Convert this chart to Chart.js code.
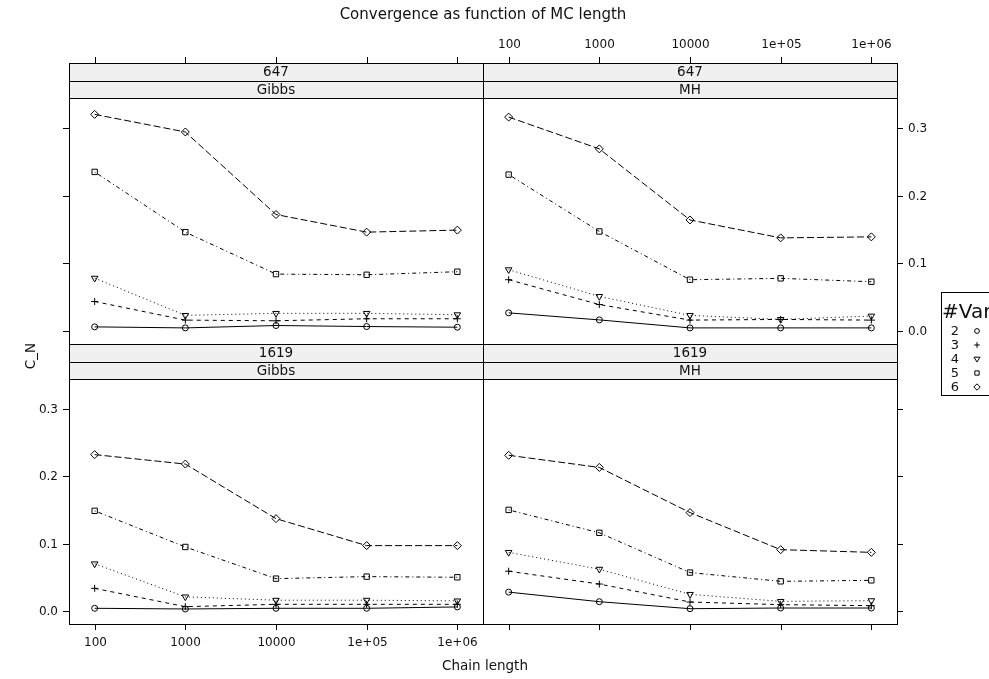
<!DOCTYPE html>
<html>
<head>
<meta charset="utf-8">
<script src="https://cdn.jsdelivr.net/npm/chart.js@4.4.1/dist/chart.umd.min.js"></script>
<style>
  body { margin: 0; background: #fff; }
  #wrap { position: relative; width: 989px; height: 679px; overflow: hidden; }
  #wrap canvas { position: absolute; left: 0; top: 0; }
</style>
</head>
<body>
<div id="wrap">
  <canvas id="tl" width="989" height="679"></canvas>
  <canvas id="tr" width="989" height="679"></canvas>
  <canvas id="bl" width="989" height="679"></canvas>
  <canvas id="br" width="989" height="679"></canvas>
</div>
<script>
// --- dados ---
const chainLengths = [100, 1000, 10000, 1e5, 1e6];
const xTickLabels = ['100', '1000', '10000', '1e+05', '1e+06'];
const yTicks = [0, 0.1, 0.2, 0.3];
const yTickLabels = ['0.0', '0.1', '0.2', '0.3'];
const varNames = ['2', '3', '4', '5', '6'];

// 647 / Gibbs
const g647_v2 = [0.006, 0.0045, 0.008, 0.0065, 0.0055];
const g647_v3 = [0.0435, 0.016, 0.015, 0.018, 0.018];
const g647_v4 = [0.078, 0.023, 0.026, 0.026, 0.024];
const g647_v5 = [0.235, 0.146, 0.084, 0.083, 0.0875];
const g647_v6 = [0.320, 0.294, 0.172, 0.146, 0.149];

// 647 / MH
const m647_v2 = [0.0267, 0.0163, 0.0045, 0.0045, 0.0045];
const m647_v3 = [0.0757, 0.039, 0.016, 0.017, 0.016];
const m647_v4 = [0.0905, 0.051, 0.023, 0.017, 0.022];
const m647_v5 = [0.231, 0.147, 0.0757, 0.0777, 0.0727];
const m647_v6 = [0.316, 0.269, 0.164, 0.1375, 0.139];

// 1619 / Gibbs
const g1619_v2 = [0.004, 0.003, 0.004, 0.004, 0.006];
const g1619_v3 = [0.0336, 0.0064, 0.0099, 0.0099, 0.0099];
const g1619_v4 = [0.070, 0.021, 0.016, 0.016, 0.015];
const g1619_v5 = [0.1486, 0.095, 0.048, 0.051, 0.050];
const g1619_v6 = [0.232, 0.218, 0.137, 0.097, 0.097];

// 1619 / MH
const m1619_v2 = [0.028, 0.0138, 0.0034, 0.0044, 0.0044];
const m1619_v3 = [0.059, 0.040, 0.0133, 0.0094, 0.0079];
const m1619_v4 = [0.087, 0.062, 0.0247, 0.0143, 0.0153];
const m1619_v5 = [0.150, 0.116, 0.057, 0.044, 0.0455];
const m1619_v6 = [0.231, 0.213, 0.146, 0.091, 0.087];

// --- estilos ---
const INK = '#000';
const TEXT = '#111';
const STRIP_FILL = '#f0f0f0';
const FONT = '"DejaVu Sans", sans-serif';
const STRIP_H = 17.5;
const X_MIN = Math.pow(10, 1.717);
const X_MAX = Math.pow(10, 6.283);
const Y_MIN = -0.0193;
const Y_MAX = 0.3442;
const dashes = [[], [4, 4], [1, 3], [1, 3, 4, 3], [7, 3]];
const pointStyles = ['circle', 'cross', 'triangle', 'rect', 'rectRot'];
const pointRotations = [0, 0, 180, 0, 0];
const pointRadii = [3, 3.5, 3.8, 3.8, 4];

// moldura, faixas e marcas de eixo de cada painel
const latticePlugin = {
  id: 'lattice',
  afterDatasetsDraw(chart, args, opts) {
    const { ctx, chartArea: a, scales: { x, y } } = chart;
    ctx.save();
    ctx.strokeStyle = INK;
    ctx.lineWidth = 1;
    ctx.setLineDash([]);

    const n = opts.strips.length;
    opts.strips.forEach((label, i) => {
      const top = Math.round(a.top - STRIP_H * (n - i));
      const bot = Math.round(a.top - STRIP_H * (n - i - 1));
      ctx.fillStyle = STRIP_FILL;
      ctx.fillRect(a.left, top, a.right - a.left, bot - top);
      ctx.strokeRect(a.left + 0.5, top + 0.5, a.right - a.left, bot - top);
      ctx.fillStyle = TEXT;
      ctx.font = '13.5px ' + FONT;
      ctx.textAlign = 'center';
      ctx.textBaseline = 'middle';
      ctx.fillText(label, (a.left + a.right) / 2, (top + bot) / 2 + 0.5);
    });

    ctx.strokeRect(a.left + 0.5, a.top + 0.5, a.right - a.left, a.bottom - a.top);

    const TL = 6;
    ctx.font = '12px ' + FONT;
    ctx.fillStyle = TEXT;
    const stripTop = Math.round(a.top - STRIP_H * n);

    if (opts.top) {
      chainLengths.forEach((v, i) => {
        const px = Math.round(x.getPixelForValue(v)) + 0.5;
        ctx.beginPath(); ctx.moveTo(px, stripTop); ctx.lineTo(px, stripTop - TL); ctx.stroke();
        if (opts.top === 'labels') {
          ctx.textAlign = 'center'; ctx.textBaseline = 'middle';
          ctx.fillText(xTickLabels[i], px, stripTop - 18);
        }
      });
    }
    if (opts.bottom) {
      chainLengths.forEach((v, i) => {
        const px = Math.round(x.getPixelForValue(v)) + 0.5;
        ctx.beginPath(); ctx.moveTo(px, a.bottom); ctx.lineTo(px, a.bottom + TL); ctx.stroke();
        if (opts.bottom === 'labels') {
          ctx.textAlign = 'center'; ctx.textBaseline = 'middle';
          ctx.fillText(xTickLabels[i], px, a.bottom + 19);
        }
      });
    }
    if (opts.left) {
      yTicks.forEach((v, i) => {
        const py = Math.round(y.getPixelForValue(v)) + 0.5;
        ctx.beginPath(); ctx.moveTo(a.left, py); ctx.lineTo(a.left - TL, py); ctx.stroke();
        if (opts.left === 'labels') {
          ctx.textAlign = 'right'; ctx.textBaseline = 'middle';
          ctx.fillText(yTickLabels[i], a.left - 11, py);
        }
      });
    }
    if (opts.right) {
      yTicks.forEach((v, i) => {
        const py = Math.round(y.getPixelForValue(v)) + 0.5;
        ctx.beginPath(); ctx.moveTo(a.right, py); ctx.lineTo(a.right + TL, py); ctx.stroke();
        if (opts.right === 'labels') {
          ctx.textAlign = 'left'; ctx.textBaseline = 'middle';
          ctx.fillText(yTickLabels[i], a.right + 11, py);
        }
      });
    }

    if (opts.extras) drawExtras(ctx);
    ctx.restore();
  }
};

// título, rótulos dos eixos e legenda
const drawExtras = (ctx) => {
  ctx.fillStyle = TEXT;
  ctx.textAlign = 'center';
  ctx.textBaseline = 'middle';
  ctx.font = '15px ' + FONT;
  ctx.fillText('Convergence as function of MC length', 483, 15);
  ctx.font = '13.5px ' + FONT;
  ctx.fillText('Chain length', 485, 666);
  ctx.save();
  ctx.translate(31, 356);
  ctx.rotate(-Math.PI / 2);
  ctx.fillText('C_N', 0, 0);
  ctx.restore();

  // legenda
  ctx.strokeStyle = INK;
  ctx.lineWidth = 1;
  ctx.strokeRect(941.5, 292.5, 60, 103);
  ctx.font = '20px ' + FONT;
  ctx.textAlign = 'left';
  ctx.textBaseline = 'alphabetic';
  ctx.fillText('#Var', 942, 318);
  ctx.font = '13px ' + FONT;
  varNames.forEach((name, i) => {
    const cy = 331 + i * 14;
    ctx.textAlign = 'center';
    ctx.textBaseline = 'middle';
    ctx.fillText(name, 955, cy + 0.5);
    drawSymbol(ctx, i, 977, cy);
  });
};

const drawSymbol = (ctx, i, cx, cy) => {
  const r = pointRadii[i] * 0.8;
  ctx.beginPath();
  if (i === 0) {
    ctx.arc(cx, cy, r, 0, Math.PI * 2);
  } else if (i === 1) {
    ctx.moveTo(cx - r, cy); ctx.lineTo(cx + r, cy);
    ctx.moveTo(cx, cy - r); ctx.lineTo(cx, cy + r);
  } else if (i === 2) {
    ctx.moveTo(cx - r, cy - r * 0.6); ctx.lineTo(cx + r, cy - r * 0.6); ctx.lineTo(cx, cy + r); ctx.closePath();
  } else if (i === 3) {
    const s = r * Math.SQRT1_2;
    ctx.rect(cx - s, cy - s, 2 * s, 2 * s);
  } else {
    ctx.moveTo(cx, cy - r); ctx.lineTo(cx + r, cy); ctx.lineTo(cx, cy + r); ctx.lineTo(cx - r, cy); ctx.closePath();
  }
  ctx.stroke();
};

const makePanel = (id, rect, series, lattice) => {
  new Chart(document.getElementById(id), {
    type: 'line',
    data: {
      datasets: series.map((vals, i) => ({
        label: varNames[i],
        data: chainLengths.map((c, j) => ({ x: c, y: vals[j] })),
        borderColor: INK,
        borderWidth: 1,
        borderDash: dashes[i],
        pointStyle: pointStyles[i],
        pointRotation: pointRotations[i],
        pointRadius: pointRadii[i],
        pointBorderColor: INK,
        pointBackgroundColor: 'rgba(0,0,0,0)',
        pointBorderWidth: 1,
        tension: 0,
        fill: false
      }))
    },
    options: {
      responsive: false,
      animation: false,
      devicePixelRatio: 1,
      events: [],
      layout: {
        padding: { left: rect[0], top: rect[1], right: 989 - rect[2], bottom: 679 - rect[3] }
      },
      scales: {
        x: { type: 'logarithmic', min: X_MIN, max: X_MAX, bounds: 'data', display: false },
        y: { type: 'linear', min: Y_MIN, max: Y_MAX, bounds: 'data', display: false }
      },
      plugins: {
        legend: { display: false },
        tooltip: { enabled: false },
        lattice: lattice
      }
    },
    plugins: [latticePlugin]
  });
};

makePanel('tl', [69, 98, 483, 344],
  [g647_v2, g647_v3, g647_v4, g647_v5, g647_v6],
  { strips: ['647', 'Gibbs'], top: 'ticks', left: 'ticks' });
makePanel('tr', [483, 98, 897, 344],
  [m647_v2, m647_v3, m647_v4, m647_v5, m647_v6],
  { strips: ['647', 'MH'], top: 'labels', right: 'labels' });
makePanel('bl', [69, 379, 483, 624],
  [g1619_v2, g1619_v3, g1619_v4, g1619_v5, g1619_v6],
  { strips: ['1619', 'Gibbs'], bottom: 'labels', left: 'labels' });
makePanel('br', [483, 379, 897, 624],
  [m1619_v2, m1619_v3, m1619_v4, m1619_v5, m1619_v6],
  { strips: ['1619', 'MH'], bottom: 'ticks', right: 'ticks', extras: true });
</script>
</body>
</html>
